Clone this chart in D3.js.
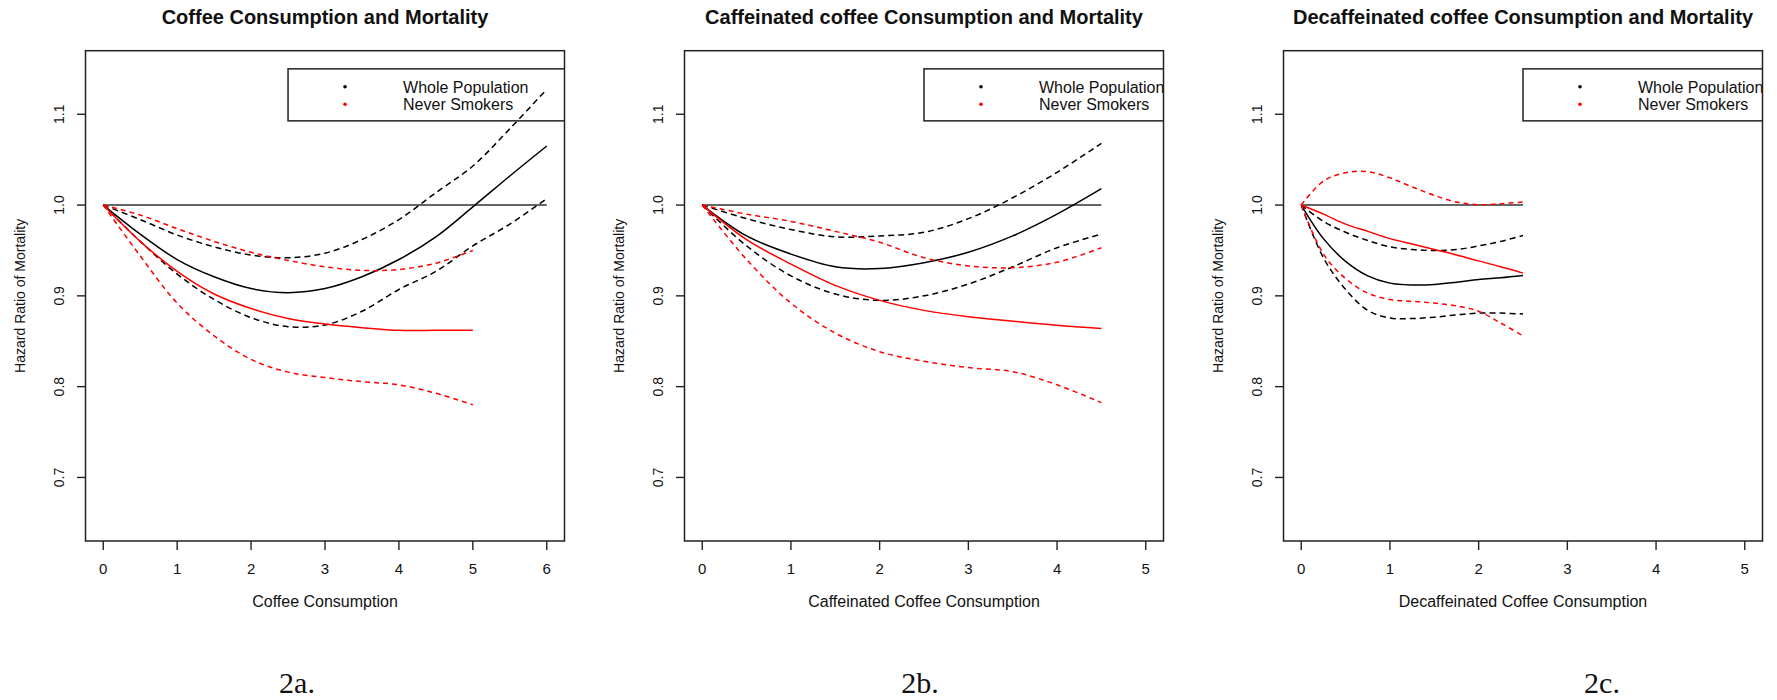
<!DOCTYPE html>
<html>
<head>
<meta charset="utf-8">
<script src="https://cdn.jsdelivr.net/npm/d3@7"></script>
<style>
  html, body { margin: 0; padding: 0; background: #fff; }
  svg { display: block; }
  text { font-family: "Liberation Sans", Arial, sans-serif; fill: #111; }
  .caption { font-family: "Liberation Serif", "Times New Roman", serif; }
</style>
</head>
<body>
<div id="chart"></div>
<script>
// values (hazard ratio vs cups per day)
const yTicks = [0.7, 0.8, 0.9, 1.0, 1.1];
const legendLabels = ["Whole Population", "Never Smokers"];

// 2a - all coffee
const coffeeTicks = [0, 1, 2, 3, 4, 5, 6];
const coffeeX = [0, 0.5, 1, 1.5, 2, 2.5, 3, 3.5, 4, 4.5, 5, 5.5, 6];
const coffeeWhole   = [1.0, 0.968, 0.940, 0.921, 0.908, 0.9035, 0.908, 0.921, 0.940, 0.965, 0.998, 1.032, 1.065];
const coffeeWholeHi = [1.0, 0.984, 0.967, 0.954, 0.945, 0.942, 0.947, 0.962, 0.984, 1.0136, 1.043, 1.084, 1.1275];
const coffeeWholeLo = [1.0, 0.960, 0.924, 0.896, 0.876, 0.866, 0.868, 0.883, 0.907, 0.927, 0.955, 0.979, 1.007];
const coffeeNeverX = [0, 0.5, 1, 1.5, 2, 2.5, 3, 3.5, 4, 4.5, 5];
const coffeeNever   = [1.0, 0.960, 0.927, 0.902, 0.886, 0.875, 0.869, 0.865, 0.862, 0.862, 0.862];
const coffeeNeverHi = [1.0, 0.989, 0.974, 0.960, 0.948, 0.939, 0.932, 0.928, 0.929, 0.936, 0.950];
const coffeeNeverLo = [1.0, 0.944, 0.892, 0.856, 0.830, 0.816, 0.810, 0.8055, 0.802, 0.7927, 0.780];

// 2b - caffeinated coffee
const cafTicks = [0, 1, 2, 3, 4, 5];
const cafX = [0, 0.5, 1, 1.5, 2, 2.5, 3, 3.5, 4, 4.5];
const cafWhole   = [1.0, 0.966, 0.946, 0.932, 0.930, 0.9365, 0.948, 0.966, 0.990, 1.018];
const cafWholeHi = [1.0, 0.985, 0.973, 0.965, 0.966, 0.970, 0.985, 1.008, 1.036, 1.068];
const cafWholeLo = [1.0, 0.955, 0.922, 0.902, 0.895, 0.900, 0.913, 0.932, 0.953, 0.968];
const cafNever   = [1.0, 0.962, 0.935, 0.9115, 0.895, 0.884, 0.877, 0.872, 0.8675, 0.864];
const cafNeverHi = [1.0, 0.990, 0.982, 0.971, 0.959, 0.942, 0.933, 0.931, 0.937, 0.953];
const cafNeverLo = [1.0, 0.940, 0.892, 0.859, 0.8385, 0.828, 0.821, 0.8165, 0.802, 0.7824];

// 2c - decaffeinated coffee
const decafTicks = [0, 1, 2, 3, 4, 5];
const decafX = [0, 0.25, 0.5, 0.75, 1, 1.25, 1.5, 1.75, 2, 2.25, 2.5];
const decafWhole   = [1.0, 0.963, 0.938, 0.922, 0.914, 0.912, 0.9125, 0.915, 0.918, 0.920, 0.9225];
const decafWholeHi = [1.0, 0.982, 0.970, 0.961, 0.954, 0.951, 0.950, 0.951, 0.955, 0.960, 0.9665];
const decafWholeLo = [1.0, 0.942, 0.907, 0.884, 0.8755, 0.875, 0.8765, 0.879, 0.881, 0.881, 0.880];
const decafNever   = [1.0, 0.990, 0.979, 0.971, 0.963, 0.957, 0.951, 0.945, 0.9385, 0.932, 0.925];
const decafNeverHi = [1.0, 1.0264, 1.0356, 1.0367, 1.030, 1.020, 1.0106, 1.0033, 1.0004, 1.0015, 1.0033];
const decafNeverLo = [1.0, 0.946, 0.919, 0.903, 0.896, 0.894, 0.892, 0.889, 0.883, 0.870, 0.856];

const zip = (xs, ys) => xs.map((x, i) => [x, ys[i]]);

const panels = [
  {
    title: "Coffee Consumption and Mortality", xLabel: "Coffee Consumption", caption: "2a.",
    left: 85.5, capX: 297, ticks: coffeeTicks, xMax: 6, refEnd: 6,
    series: [
      { pts: zip(coffeeX, coffeeWhole), color: "#000", dash: null },
      { pts: zip(coffeeX, coffeeWholeHi), color: "#000", dash: "6,4" },
      { pts: zip(coffeeX, coffeeWholeLo), color: "#000", dash: "6,4" },
      { pts: zip(coffeeNeverX, coffeeNever), color: "#ff0000", dash: null },
      { pts: zip(coffeeNeverX, coffeeNeverHi), color: "#ff0000", dash: "5,4" },
      { pts: zip(coffeeNeverX, coffeeNeverLo), color: "#ff0000", dash: "5,4" }
    ]
  },
  {
    title: "Caffeinated coffee Consumption and Mortality", xLabel: "Caffeinated Coffee Consumption", caption: "2b.",
    left: 684.5, capX: 920, ticks: cafTicks, xMax: 5, refEnd: 4.5,
    series: [
      { pts: zip(cafX, cafWhole), color: "#000", dash: null },
      { pts: zip(cafX, cafWholeHi), color: "#000", dash: "6,4" },
      { pts: zip(cafX, cafWholeLo), color: "#000", dash: "6,4" },
      { pts: zip(cafX, cafNever), color: "#ff0000", dash: null },
      { pts: zip(cafX, cafNeverHi), color: "#ff0000", dash: "5,4" },
      { pts: zip(cafX, cafNeverLo), color: "#ff0000", dash: "5,4" }
    ]
  },
  {
    title: "Decaffeinated coffee Consumption and Mortality", xLabel: "Decaffeinated Coffee Consumption", caption: "2c.",
    left: 1283.5, capX: 1602, ticks: decafTicks, xMax: 5, refEnd: 2.5,
    series: [
      { pts: zip(decafX, decafWhole), color: "#000", dash: null },
      { pts: zip(decafX, decafWholeHi), color: "#000", dash: "6,4" },
      { pts: zip(decafX, decafWholeLo), color: "#000", dash: "6,4" },
      { pts: zip(decafX, decafNever), color: "#ff0000", dash: null },
      { pts: zip(decafX, decafNeverHi), color: "#ff0000", dash: "5,4" },
      { pts: zip(decafX, decafNeverLo), color: "#ff0000", dash: "5,4" }
    ]
  }
];

const W = 1777, H = 700;
const boxW = 479, plotTop = 50.7, plotBottom = 541;

const svg = d3.select("#chart").append("svg")
  .attr("width", W)
  .attr("height", H);

const y = d3.scaleLinear().domain([0.63, 1.17]).range([plotBottom, plotTop]);

panels.forEach((p, i) => {
  const right = p.left + boxW;
  const pad = p.xMax * 0.04;  // R's default axis extension
  const x = d3.scaleLinear().domain([-pad, p.xMax + pad]).range([p.left, right]);
  const g = svg.append("g");
  const cx = (p.left + right) / 2;

  g.append("clipPath").attr("id", "clip" + i)
    .append("rect")
    .attr("x", p.left).attr("y", plotTop)
    .attr("width", boxW).attr("height", plotBottom - plotTop);

  // title
  g.append("text")
    .attr("x", cx).attr("y", 24)
    .attr("text-anchor", "middle")
    .attr("font-size", "20px")
    .attr("font-weight", "bold")
    .text(p.title);

  // x ticks
  g.selectAll(".xt")
    .data(p.ticks)
    .join("line")
    .attr("x1", d => x(d)).attr("x2", d => x(d))
    .attr("y1", plotBottom).attr("y2", plotBottom + 9)
    .attr("stroke", "#222").attr("stroke-width", 1.4);
  g.selectAll(".xl")
    .data(p.ticks)
    .join("text")
    .attr("x", d => x(d)).attr("y", 573.5)
    .attr("text-anchor", "middle")
    .attr("font-size", "15px")
    .text(d => d);

  // y ticks
  g.selectAll(".yt")
    .data(yTicks)
    .join("line")
    .attr("x1", p.left - 8.5).attr("x2", p.left)
    .attr("y1", d => y(d)).attr("y2", d => y(d))
    .attr("stroke", "#222").attr("stroke-width", 1.4);
  g.selectAll(".yl")
    .data(yTicks)
    .join("text")
    .attr("transform", d => `translate(${p.left - 22},${y(d)}) rotate(-90)`)
    .attr("text-anchor", "middle")
    .attr("font-size", "14px")
    .text(d => d3.format(".1f")(d));

  // axis titles
  g.append("text")
    .attr("x", cx).attr("y", 607)
    .attr("text-anchor", "middle")
    .attr("font-size", "16px")
    .text(p.xLabel);
  g.append("text")
    .attr("transform", `translate(${p.left - 61},${(plotTop + plotBottom) / 2}) rotate(-90)`)
    .attr("text-anchor", "middle")
    .attr("font-size", "14px")
    .text("Hazard Ratio of Mortality");

  // caption under the panel
  g.append("text")
    .attr("class", "caption")
    .attr("x", p.capX).attr("y", 693)
    .attr("text-anchor", "middle")
    .attr("font-size", "30px")
    .text(p.caption);

  const plot = g.append("g").attr("clip-path", `url(#clip${i})`);

  // reference line at HR = 1
  plot.append("path")
    .datum([[0, 1], [p.refEnd, 1]])
    .attr("d", d3.line().x(d => x(d[0])).y(d => y(d[1])))
    .attr("stroke", "#333").attr("stroke-width", 1.6).attr("fill", "none");

  const line = d3.line()
    .x(d => x(d[0]))
    .y(d => y(d[1]))
    .curve(d3.curveCatmullRom.alpha(0.5));

  plot.selectAll(".curve")
    .data(p.series)
    .join("path")
    .attr("d", d => line(d.pts))
    .attr("fill", "none")
    .attr("stroke", d => d.color)
    .attr("stroke-width", 1.5)
    .attr("stroke-dasharray", d => d.dash);

  // legend, anchored at x = 2.5, y = 1.15 like R's legend()
  const lx = x(2.5), ly = y(1.15);
  plot.append("rect")
    .attr("x", lx).attr("y", ly)
    .attr("width", 320).attr("height", 52)
    .attr("fill", "none").attr("stroke", "#222").attr("stroke-width", 1.5);
  const legendColors = ["#000", "#ff0000"];
  legendLabels.forEach((lab, k) => {
    plot.append("circle")
      .attr("cx", lx + 57).attr("cy", 86.7 + k * 17.6)
      .attr("r", 1.8)
      .attr("fill", legendColors[k]);
    plot.append("text")
      .attr("x", lx + 115).attr("y", 93 + k * 17.3)
      .attr("font-size", "16px")
      .text(lab);
  });

  // plot frame
  g.append("rect")
    .attr("x", p.left).attr("y", plotTop)
    .attr("width", boxW).attr("height", plotBottom - plotTop)
    .attr("fill", "none").attr("stroke", "#222").attr("stroke-width", 1.5);
});
</script>
</body>
</html>
